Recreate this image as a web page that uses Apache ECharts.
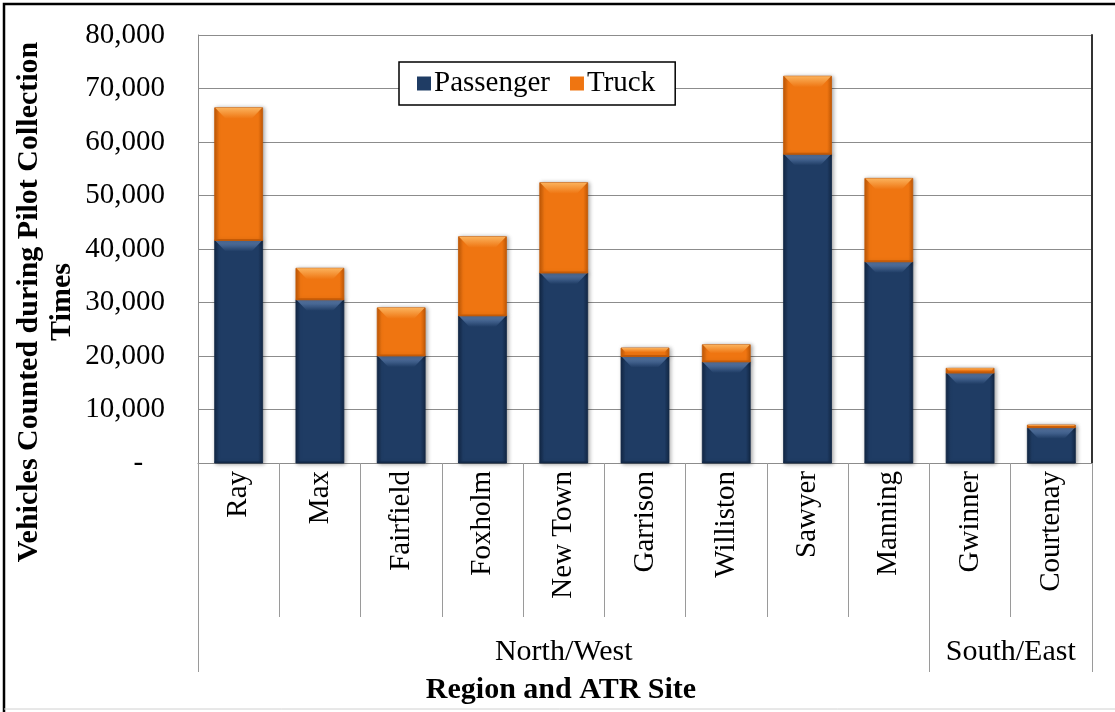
<!DOCTYPE html>
<html>
<head>
<meta charset="utf-8">
<title>Vehicles Counted during Pilot Collection Times</title>
<script src="https://cdn.jsdelivr.net/npm/echarts@6/dist/echarts.min.js"></script>
<style>
  html, body { margin: 0; padding: 0; background: #ffffff; }
  #chart { width: 1115px; height: 712px; }
</style>
</head>
<body>
<div id="chart"></div>
<script>
// ATR sites, grouped by region
const sites = ['Ray', 'Max', 'Fairfield', 'Foxholm', 'New Town', 'Garrison',
               'Williston', 'Sawyer', 'Manning', 'Gwinner', 'Courtenay'];
const regions = ['North/West', 'South/East'];
const regionSiteCounts = [9, 2];

// Vehicle counts per site
const passenger = [41600, 30500, 20000, 27500, 35500, 19900, 18900, 57700, 37600, 16800, 6600];
const truck     = [24800,  5900,  9000, 14800, 16900,  1600,  3200, 14600, 15600,   900,   500];

const yTicks = { min: 0, max: 80000, step: 10000 };

const FONT = '"Liberation Serif", "Times New Roman", serif';

// Region boundaries and label centres on a 0..N site scale
const regionEdges = [0];
regionSiteCounts.forEach(function (n) { regionEdges.push(regionEdges[regionEdges.length - 1] + n); });
const regionCenters = regions.map(function (_, i) { return (regionEdges[i] + regionEdges[i + 1]) / 2; });

// Stacked segments: [site index, bottom, top]
const passengerSeg = passenger.map(function (v, i) { return [i, 0, v]; });
const truckSeg = truck.map(function (v, i) { return [i, passenger[i], passenger[i] + v]; });

const palette = {
  passenger: { edge: '#132846', base: '#1f3c64', light: '#6283b3' },
  truck:     { edge: '#c45a06', base: '#ef7511', light: '#fbb25c' }
};

function hGrad(c) {
  return new echarts.graphic.LinearGradient(0, 0, 1, 0, [
    { offset: 0, color: c.edge },
    { offset: 0.1, color: c.base },
    { offset: 0.9, color: c.base },
    { offset: 1, color: c.edge }
  ]);
}

function vGrad(c) {
  return new echarts.graphic.LinearGradient(0, 0, 0, 1, [
    { offset: 0, color: c.light },
    { offset: 1, color: c.base }
  ]);
}

// Bevelled bar segment drawn from the axis scales
function bevelBar(c) {
  return function (params, api) {
    const idx = api.value(0);
    const p0 = api.coord([idx, api.value(1)]);
    const p1 = api.coord([idx, api.value(2)]);
    const bw = api.size([1, 0])[0] * 0.59;
    const x = p0[0] - bw / 2;
    const yT = p1[1];
    const h = p0[1] - p1[1];
    const b = Math.min(11, h / 2);
    return {
      type: 'group',
      children: [
        {
          type: 'rect',
          shape: { x: x, y: yT, width: bw, height: h },
          style: {
            fill: hGrad(c),
            stroke: c.edge, lineWidth: 0.8,
            shadowBlur: 4, shadowColor: 'rgba(0,0,0,0.35)', shadowOffsetX: 1.5, shadowOffsetY: 0.5
          }
        },
        {
          type: 'polygon',
          shape: { points: [[x + 0.5, yT], [x + bw - 0.5, yT], [x + bw - b, yT + b], [x + b, yT + b]] },
          style: { fill: vGrad(c) }
        },
        {
          type: 'rect',
          shape: { x: x, y: yT + h - 1.5, width: bw, height: 1.5 },
          style: { fill: c.edge }
        }
      ]
    };
  };
}

const chart = echarts.init(document.getElementById('chart'), null, { renderer: 'canvas' });

chart.setOption({
  backgroundColor: '#ffffff',
  animation: false,
  textStyle: { fontFamily: FONT, color: '#000' },
  grid: { left: 198, right: 23, top: 35, bottom: 249, containLabel: false },
  legend: {
    left: 399, top: 62,
    itemWidth: 14, itemHeight: 14, itemGap: 20,
    padding: [7, 20, 7, 18],
    backgroundColor: '#ffffff',
    borderColor: '#000000', borderWidth: 1.5,
    icon: 'rect',
    textStyle: { fontFamily: FONT, fontSize: 29, color: '#000', padding: [0, 0, 0, -2] },
    data: ['Passenger', 'Truck']
  },
  xAxis: [
    {
      type: 'category',
      data: sites,
      boundaryGap: true,
      axisLine: { show: true, lineStyle: { color: '#8c8c8c', width: 1 } },
      axisTick: { show: true, interval: 0, length: 154, lineStyle: { color: '#9a9a9a', width: 1 } },
      axisLabel: { interval: 0, rotate: 90, margin: 8, fontFamily: FONT, fontSize: 29, color: '#000' },
      splitLine: { show: false }
    },
    {
      type: 'value',
      position: 'bottom',
      min: regionEdges[0], max: regionEdges[regionEdges.length - 1],
      axisLine: { show: false },
      splitLine: { show: false },
      axisTick: { show: true, customValues: regionEdges, length: 209, lineStyle: { color: '#9a9a9a', width: 1 } },
      axisLabel: {
        customValues: regionCenters,
        margin: 174,
        fontFamily: FONT, fontSize: 30, color: '#000',
        formatter: function (v) {
          const k = regionCenters.indexOf(v);
          return k >= 0 ? regions[k] : '';
        }
      }
    }
  ],
  yAxis: [
    {
      type: 'value',
      min: yTicks.min, max: yTicks.max, interval: yTicks.step,
      axisLine: { show: true, lineStyle: { color: '#8c8c8c', width: 1 } },
      axisTick: { show: false },
      splitLine: { show: true, lineStyle: { color: '#8c8c8c', width: 1 } },
      axisLabel: {
        margin: 33, fontFamily: FONT, fontSize: 29, color: '#000',
        formatter: function (v) { return v === 0 ? '-   ' : v.toLocaleString('en-US'); }
      }
    },
    {
      type: 'value',
      position: 'right',
      min: yTicks.min, max: yTicks.max, interval: yTicks.step,
      axisLine: { show: true, lineStyle: { color: '#333333', width: 2 } },
      axisTick: { show: false },
      axisLabel: { show: false },
      splitLine: { show: false }
    }
  ],
  series: [
    {
      name: 'Passenger',
      type: 'custom',
      xAxisIndex: 0, yAxisIndex: 0,
      itemStyle: { color: palette.passenger.base },
      encode: { x: 0, y: [1, 2] },
      renderItem: bevelBar(palette.passenger),
      data: passengerSeg
    },
    {
      name: 'Truck',
      type: 'custom',
      xAxisIndex: 0, yAxisIndex: 0,
      itemStyle: { color: palette.truck.base },
      encode: { x: 0, y: [1, 2] },
      renderItem: bevelBar(palette.truck),
      data: truckSeg
    }
  ],
  graphic: [
    {
      type: 'text',
      x: 46, y: 302,
      rotation: Math.PI / 2,
      style: {
        text: 'Vehicles Counted during Pilot Collection\nTimes',
        fontFamily: FONT, fontSize: 30, fontWeight: 'bold', fill: '#000',
        align: 'center', verticalAlign: 'middle', lineHeight: 33
      }
    },
    {
      type: 'text',
      x: 561, y: 690,
      style: {
        text: 'Region and ATR Site',
        fontFamily: FONT, fontSize: 30, fontWeight: 'bold', fill: '#000',
        align: 'center', verticalAlign: 'middle'
      }
    },
    {
      type: 'polyline',
      shape: { points: [[4, 712], [4, 4], [1115, 4]] },
      style: { stroke: '#000', lineWidth: 2.5, fill: null }
    },
    {
      type: 'line',
      shape: { x1: 4, y1: 709, x2: 1115, y2: 709 },
      style: { stroke: '#d0d0d0', lineWidth: 1 }
    }
  ]
});
</script>
</body>
</html>
